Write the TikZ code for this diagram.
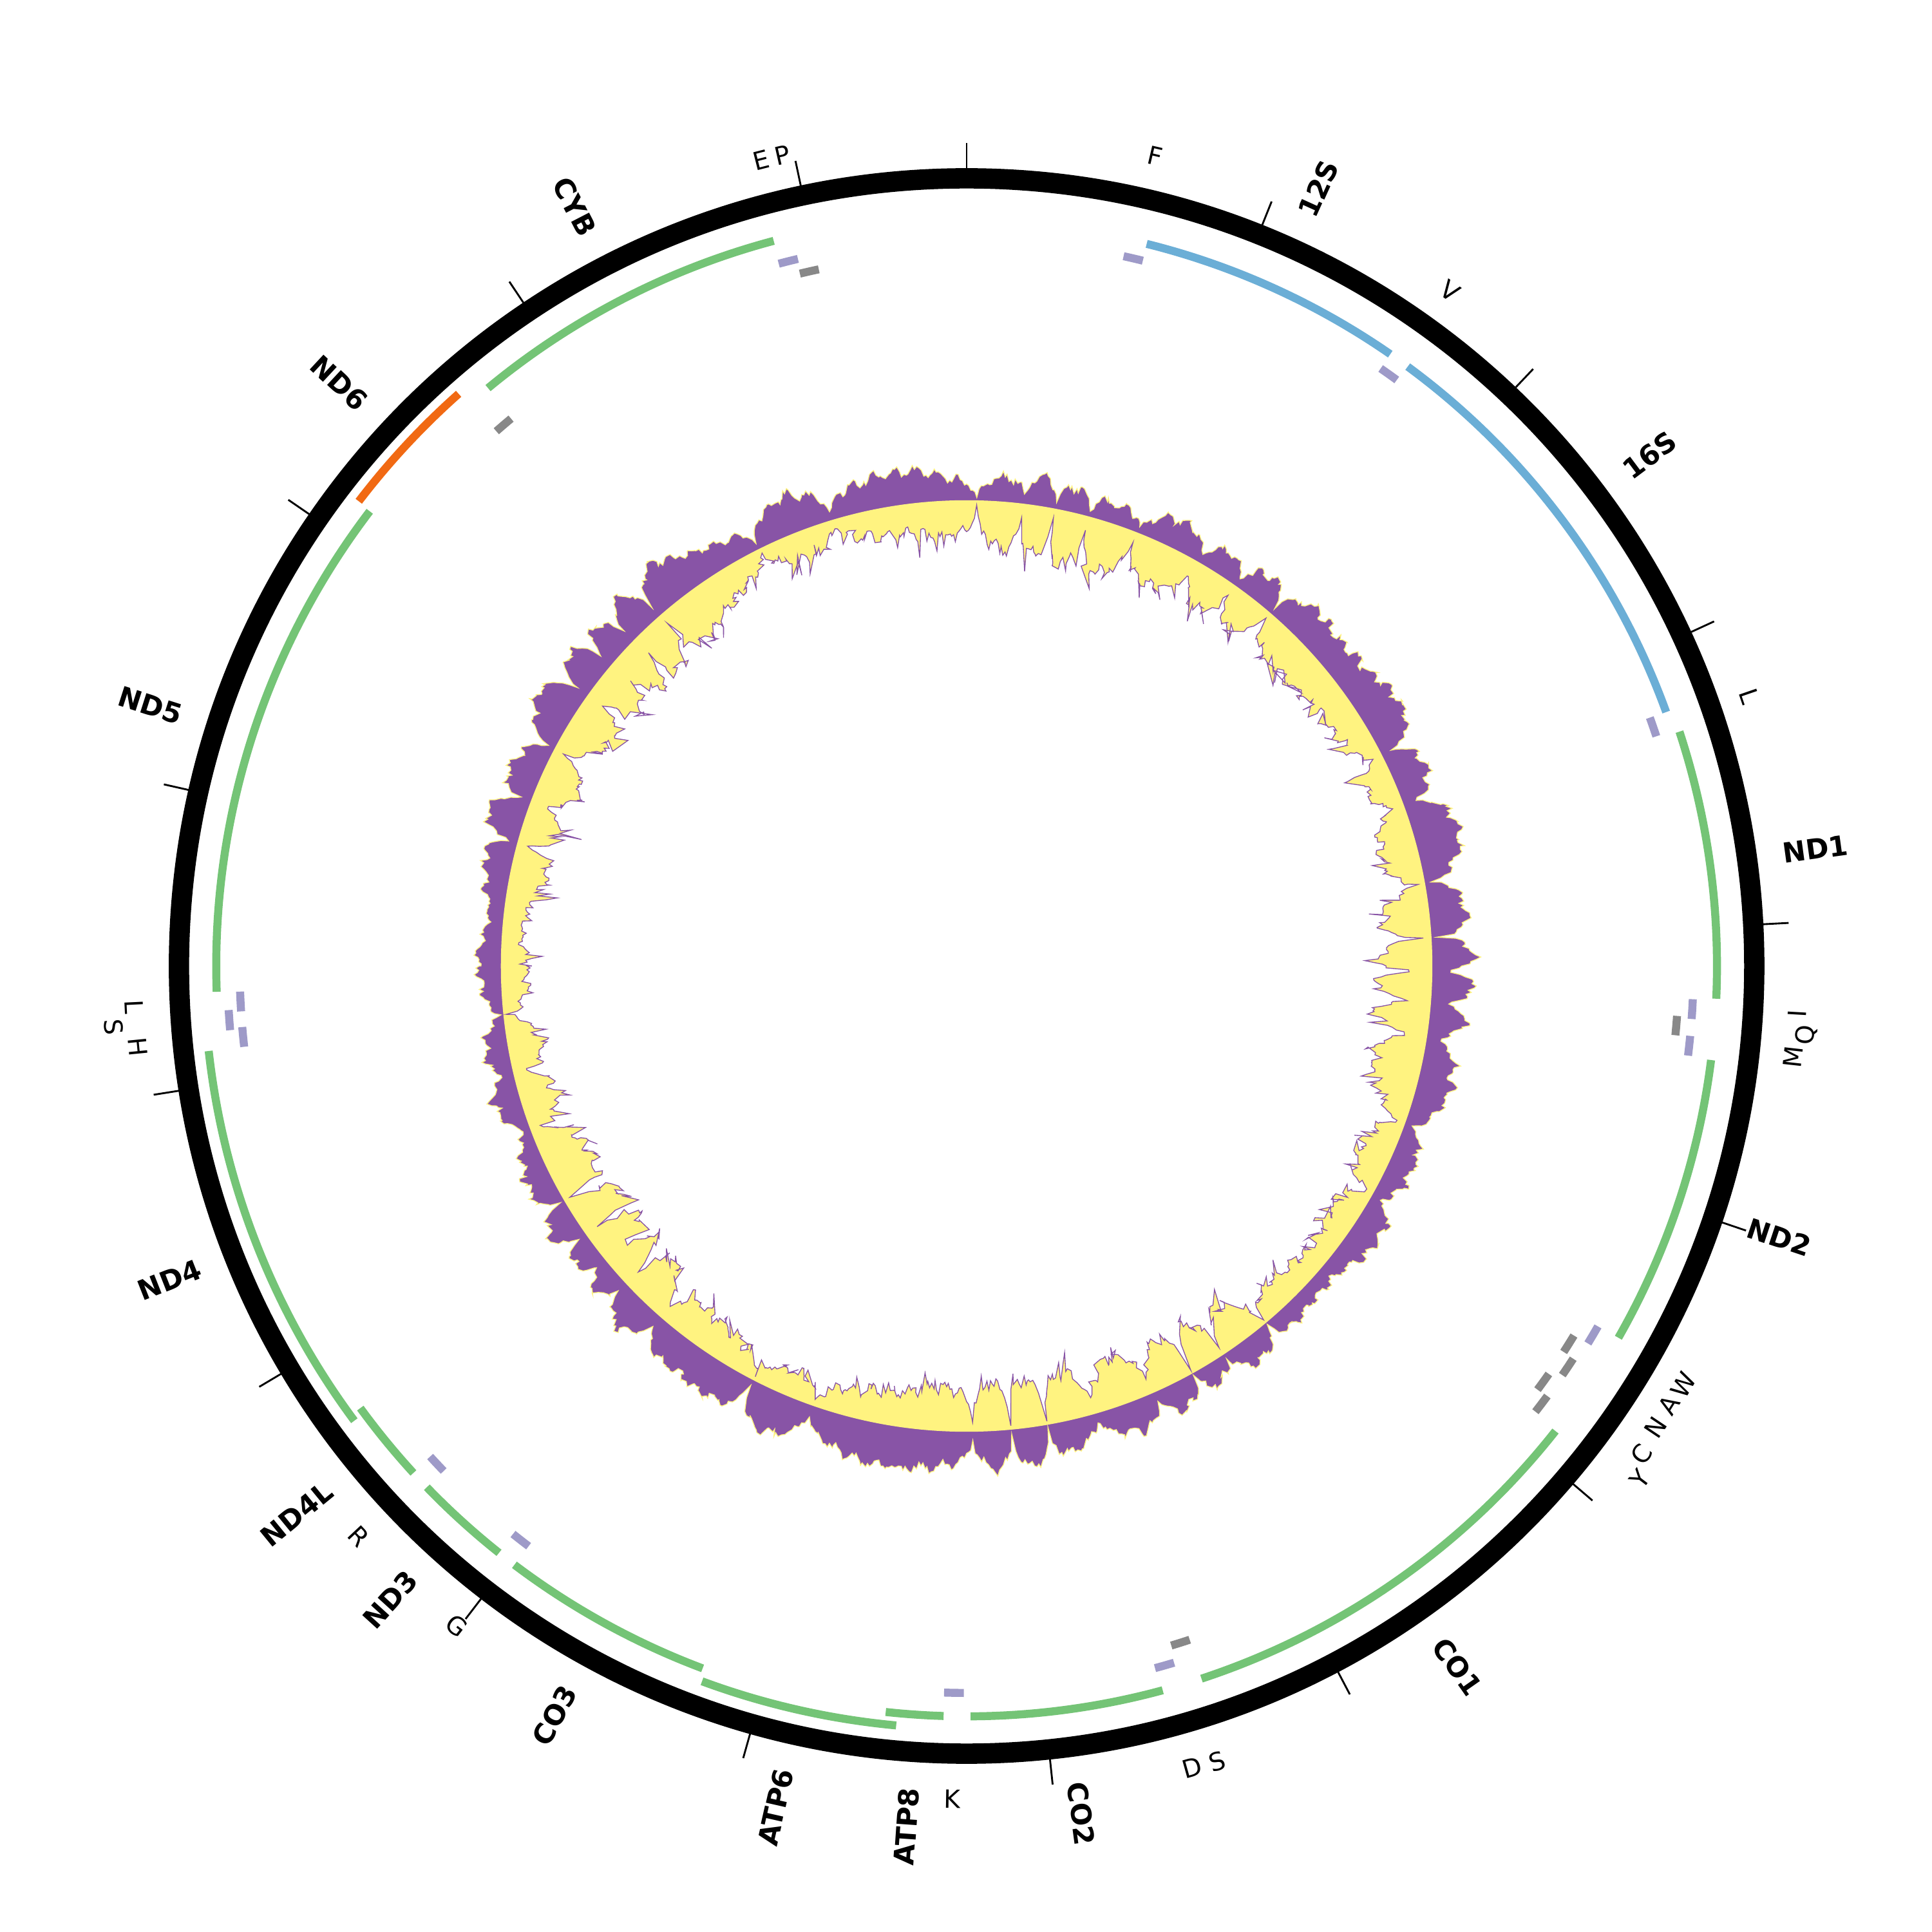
\documentclass[tikz,border=0pt]{standalone}
\usepackage{fontspec}
\setmainfont{DejaVu Sans}
\definecolor{gcpurple}{RGB}{136,84,166}
\definecolor{gcyellow}{RGB}{255,243,128}
\definecolor{ggreen}{RGB}{116,196,118}
\definecolor{gblue}{RGB}{107,174,214}
\definecolor{gorange}{RGB}{241,105,19}
\definecolor{tlav}{RGB}{158,154,200}
\definecolor{tgrey}{RGB}{136,136,136}
% gene arc: th1, th2, radius, style
\newcommand{\genearc}[4]{\draw[genebar,#4] ({90-(#1)}:#3) arc[start angle={90-(#1)}, end angle={90-(#2)}, radius=#3];}
% tRNA box: centre angle, radius, colour
\newcommand{\trnabox}[3]{\draw[genebar,#3] ({90-(#1)+0.78}:#2) arc[start angle={90-(#1)+0.78}, end angle={90-(#1)-0.78}, radius=#2];}
% gene labels (radial)
\newcommand{\glabR}[3]{\node[glab, anchor=west, rotate={90-(#2)}] (#1) at ({90-(#2)}:6.68cm) {#3};}
\newcommand{\glabL}[3]{\node[glab, anchor=east, rotate={270-(#2)}] (#1) at ({90-(#2)}:6.68cm) {#3};}
% tRNA labels (tangential)
\newcommand{\tlabU}[4]{\node[tlab, rotate={-(#2)}] (#1) at ({90-(#2)}:#3) {#4};}
\newcommand{\tlabD}[4]{\node[tlab, rotate={180-(#2)}] (#1) at ({90-(#2)}:#3) {#4};}
\begin{document}
\begin{tikzpicture}[
  genebar/.style={line width=0.065cm},
  ringline/.style={line width=0.165cm, black},
  tickline/.style={line width=0.015cm, black},
  glab/.style={inner sep=0pt, font=\bfseries\fontsize{6.4}{7}\selectfont},
  tlab/.style={inner sep=0pt, font=\fontsize{5.8}{6}\selectfont}
]
\useasboundingbox[fill=white] (-7.845,-7.84) rectangle (7.835,7.84);
\coordinate (c) at (0,0);

% ---------- GC plot ----------
\pgfmathsetseed{12}
\filldraw[fill=gcpurple, draw=gcyellow, line width=0.2pt]
  plot[domain=-180:180, samples=1441, variable=\t]
  (\t:{3.78+(abs(sin(22*\t+150*sin(5*\t)+60*sin(13*\t+30)))^0.35)*(0.10+0.14*(0.5+0.5*sin(3*\t+50))+0.13*(0.5+0.5*sin(61*\t+10)*sin(83*\t+40))+0.06*rnd)}) -- cycle;
\fill[gcyellow] (c) circle[radius=3.78cm];
\filldraw[fill=white, draw=gcpurple, line width=0.2pt]
  plot[domain=-180:180, samples=1441, variable=\t]
  (\t:{3.78-(abs(sin(22*\t+150*sin(5*\t)+60*sin(13*\t+30)))^0.35)*(0.12+0.18*(0.5+0.5*cos(5*\t+10))+0.15*(0.5+0.5*sin(71*\t+20)*sin(79*\t+60))+0.07*rnd+0.2*rnd^10)}) -- cycle;

% ---------- outer ring and ticks ----------
\draw[ringline] (c) circle[radius=6.3925cm];
\foreach \k in {0,...,16} \draw[tickline] ({90-\k*21.75}:6.45cm) -- ({90-\k*21.75}:6.68cm);

% ---------- genes ----------
\genearc{14.0}{34.7}{6.04cm}{gblue}
\genearc{36.35}{70.05}{6.04cm}{gblue}
\genearc{71.8}{92.5}{6.09cm}{ggreen}
\genearc{97.2}{119.7}{6.09cm}{ggreen}
\genearc{128.3}{161.76}{6.09cm}{ggreen}
\genearc{164.85}{179.7}{6.09cm}{ggreen}
\genearc{181.76}{186.19}{6.09cm}{ggreen}
\genearc{185.3}{200.3}{6.19cm}{ggreen}
\genearc{200.6}{217.06}{6.09cm}{ggreen}
\genearc{218.55}{226.0}{6.09cm}{ggreen}
\genearc{227.5}{233.9}{6.09cm}{ggreen}
\genearc{233.4}{263.6}{6.19cm}{ggreen}
\genearc{268.03}{307.3}{6.09cm}{ggreen}
\genearc{307.4}{318.4}{6.21cm}{gorange}
\genearc{320.37}{345.1}{6.09cm}{ggreen}

% ---------- tRNAs ----------
\trnabox{13.25}{5.90cm}{tlav}
\trnabox{35.5}{5.90cm}{tlav}
\trnabox{70.8}{5.90cm}{tlav}
\trnabox{93.4}{5.90cm}{tlav}
\trnabox{94.8}{5.78cm}{tgrey}
\trnabox{96.3}{5.90cm}{tlav}
\trnabox{120.5}{5.90cm}{tlav}
\trnabox{122.1}{5.77cm}{tgrey}
\trnabox{123.7}{5.865cm}{tgrey}
\trnabox{125.8}{5.77cm}{tgrey}
\trnabox{127.3}{5.865cm}{tgrey}
\trnabox{162.46}{5.76cm}{tgrey}
\trnabox{164.2}{5.90cm}{tlav}
\trnabox{181.0}{5.90cm}{tlav}
\trnabox{217.83}{5.90cm}{tlav}
\trnabox{226.78}{5.90cm}{tlav}
\trnabox{264.4}{5.90cm}{tlav}
\trnabox{265.8}{6.00cm}{tlav}
\trnabox{267.2}{5.90cm}{tlav}
\trnabox{319.45}{5.78cm}{tgrey}
\trnabox{345.8}{5.90cm}{tlav}
\trnabox{347.24}{5.78cm}{tgrey}

% ---------- gene labels ----------
\glabR{l12S}{24.35}{12S}
\glabR{l16S}{53.2}{16S}
\glabR{lND1}{82.15}{ND1}
\glabR{lND2}{108.45}{ND2}
\glabR{lCO1}{145.0}{CO1}
\glabR{lCO2}{172.3}{CO2}
\glabL{lATP8}{184.0}{ATP8}
\glabL{lATP6}{192.8}{ATP6}
\glabL{lCO3}{208.8}{CO3}
\glabL{lND3}{222.3}{ND3}
\glabL{lND4L}{230.7}{ND4L}
\glabL{lND4}{248.5}{ND4}
\glabL{lND5}{287.7}{ND5}
\glabL{lND6}{312.9}{ND6}
\glabL{lCYB}{332.7}{CYB}

% ---------- tRNA labels ----------
\tlabU{tE}{345.7}{6.75cm}{E}
\tlabU{tP}{347.2}{6.75cm}{P}
\tlabU{tF}{13.1}{6.75cm}{F}
\tlabU{tV}{35.6}{6.74cm}{V}
\tlabU{tL1}{71.0}{6.72cm}{L}
\tlabD{tI}{93.3}{6.75cm}{I}
\tlabD{tQ}{94.7}{6.84cm}{Q}
\tlabD{tM}{96.3}{6.75cm}{M}
\tlabD{tW}{120.3}{6.74cm}{W}
\tlabD{tA}{122.0}{6.72cm}{A}
\tlabD{tN}{123.8}{6.73cm}{N}
\tlabD{tC}{125.9}{6.76cm}{C}
\tlabD{tY}{127.3}{6.87cm}{Y}
\tlabD{tS1}{162.5}{6.77cm}{S}
\tlabD{tD}{164.3}{6.76cm}{D}
\tlabD{tK}{181.0}{6.76cm}{K}
\tlabD{tG}{217.7}{6.77cm}{G}
\tlabD{tR}{226.85}{6.765cm}{R}
\tlabD{tH}{264.4}{6.76cm}{H}
\tlabD{tS2}{265.9}{6.94cm}{S}
\tlabD{tL2}{267.2}{6.764cm}{L}
\end{tikzpicture}
\end{document}
